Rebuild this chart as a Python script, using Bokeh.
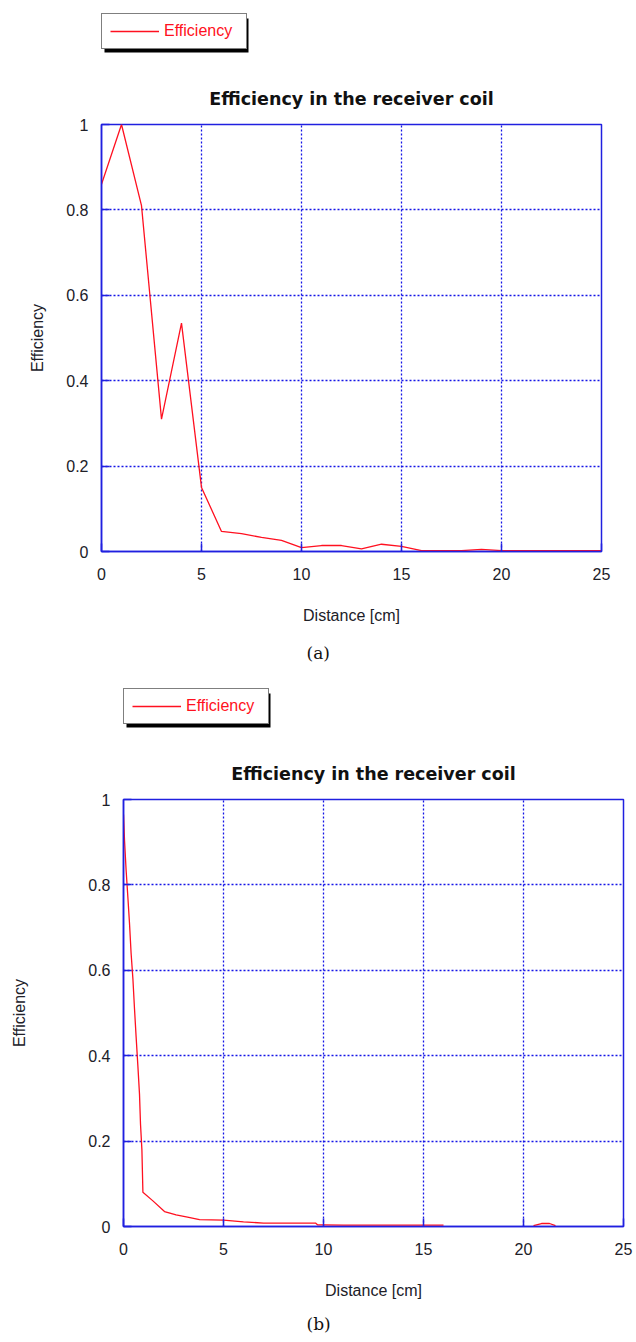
import math
from bokeh.plotting import figure
from bokeh.layouts import column
from bokeh.models import (Range1d, FixedTicker, CustomJSTickFormatter, Legend, LegendItem,
                          BoxAnnotation, Title)
from bokeh.embed import file_html
from bokeh.resources import INLINE

NAN = float("nan")

# ---- data (a) ----
dist_a = [0, 1, 2, 3, 4, 5, 6, 7, 8, 9, 10, 11, 12, 13, 14, 15, 16, 17, 18, 19, 20, 21, 22, 23, 24, 25]
eff_a = [0.86, 1.0, 0.81, 0.31, 0.535, 0.15, 0.047, 0.042, 0.033, 0.026, 0.009, 0.014, 0.014, 0.006,
         0.017, 0.012, 0.002, 0.002, 0.002, 0.005, 0.002, 0.002, 0.002, 0.002, 0.002, 0.002]

# ---- data (b) ----
dist_b = [0, 0.05, 0.13, 0.22, 0.3, 0.38, 0.47, 0.55, 0.63, 0.72, 0.8, 0.85, 0.92, 0.97,
          1.47, 2.05, 2.63, 3.2, 3.8, 5, 6, 7, 8, 9, 9.6, 9.7, 10, 11, 12, 13, 14, 15, 16,
          18, 20.5, 20.9, 21.3, 21.6]
eff_b = [0.965, 0.905, 0.835, 0.77, 0.71, 0.64, 0.58, 0.51, 0.445, 0.375, 0.31, 0.24, 0.18, 0.08,
         0.06, 0.035, 0.027, 0.022, 0.016, 0.015, 0.011, 0.008, 0.008, 0.008, 0.008, 0.004, 0.004,
         0.003, 0.003, 0.003, 0.003, 0.003, 0.003,
         NAN, 0.002, 0.007, 0.007, 0.002]

x_ticks = [0, 5, 10, 15, 20, 25]
y_ticks = [0, 0.2, 0.4, 0.6, 0.8, 1.0]
title_text = "Efficiency in the receiver coil"
legend_text = "Efficiency"
x_label = "Distance [cm]"
y_label = "Efficiency"

BLUE = "#2020e0"
GRID = "#1515e6"
RED = "#ff1020"
TXT = "#202028"
FONT = "Liberation Sans"


def make_legend_fig(height, box_bottom):
    # the column aligns this figure's frame with the plot frame below it,
    # so screen x = 0 is the left edge of the plot area
    f = figure(width=636, height=height, output_backend="svg", toolbar_location=None,
               min_border_left=0, min_border_right=0, min_border_top=0, min_border_bottom=0,
               x_range=Range1d(0, 1), y_range=Range1d(0, 1))
    f.axis.visible = False
    f.grid.visible = False
    f.outline_line_color = None
    f.background_fill_color = "white"
    f.border_fill_color = "white"
    r = f.line([NAN], [NAN], line_color=RED, line_width=1.3)
    shadow = BoxAnnotation(left=3, right=147, bottom=box_bottom - 3, top=box_bottom + 31,
                           left_units="screen", right_units="screen",
                           bottom_units="screen", top_units="screen",
                           fill_color="black", fill_alpha=1.0, line_color=None)
    f.add_layout(shadow)
    leg = Legend(items=[LegendItem(label=legend_text, renderers=[r])],
                 location=(0, box_bottom), orientation="vertical")
    leg.margin = 0
    leg.padding = 8
    leg.spacing = 0
    leg.glyph_width = 49
    leg.glyph_height = 16
    leg.label_height = 16
    leg.label_width = 74
    leg.label_standoff = 5
    leg.label_text_font = FONT
    leg.label_text_font_size = "16px"
    leg.label_text_color = RED
    leg.border_line_color = "black"
    leg.border_line_width = 1
    leg.background_fill_color = "white"
    leg.background_fill_alpha = 1.0
    f.add_layout(leg)
    return f


def make_panel(xs, ys, left, right, top, bottom, ylab_standoff, caption, cap_offset, cap_standoff):
    p = figure(frame_width=500, frame_height=427, output_backend="svg", toolbar_location=None,
               min_border_left=left, min_border_right=right, min_border_top=top,
               min_border_bottom=bottom,
               x_range=Range1d(0, 25), y_range=Range1d(0, 1))
    p.background_fill_color = "white"
    p.border_fill_color = "white"
    p.outline_line_color = BLUE
    p.outline_line_width = 1.5

    p.line(xs, ys, line_color=RED, line_width=1.3)

    for ax in (p.xaxis[0], p.yaxis[0]):
        ax.axis_line_color = BLUE
        ax.axis_line_width = 1.5
        ax.major_tick_line_color = BLUE
        ax.major_tick_line_width = 1.5
        ax.major_tick_in = 8
        ax.major_tick_out = 0
        ax.minor_tick_line_color = None
        ax.major_label_text_font = FONT
        ax.major_label_text_font_size = "16px"
        ax.major_label_text_color = TXT
        ax.axis_label_text_font = FONT
        ax.axis_label_text_font_size = "16px"
        ax.axis_label_text_font_style = "normal"
        ax.axis_label_text_color = TXT

    p.xaxis.ticker = FixedTicker(ticks=x_ticks)
    p.yaxis.ticker = FixedTicker(ticks=y_ticks)
    p.yaxis.formatter = CustomJSTickFormatter(code="return String(Math.round(tick*10)/10);")
    p.xaxis.axis_label = x_label
    p.yaxis.axis_label = y_label
    p.xaxis.major_label_standoff = 16
    p.xaxis.axis_label_standoff = 24
    p.yaxis.major_label_standoff = 13
    p.yaxis.axis_label_standoff = ylab_standoff

    for g in (p.xgrid[0], p.ygrid[0]):
        g.grid_line_color = GRID
        g.grid_line_width = 1.3
        g.grid_line_dash = "2 2"

    p.title.text = title_text
    p.title.align = "center"
    p.title.text_font = "DejaVu Sans"
    p.title.text_font_size = "17.5px"
    p.title.text_font_style = "bold"
    p.title.text_color = "#111111"
    p.title.standoff = 31

    p.add_layout(Title(text=caption, align="left", offset=cap_offset,
                       text_font="DejaVu Serif", text_font_size="17px",
                       text_font_style="normal", text_color="#111111",
                       standoff=cap_standoff), "below")
    return p


leg_a = make_legend_fig(60, 11)
pa = make_panel(dist_a, eff_a, 101, 35, 64, 127, 17, "(a)", 205, 28)
leg_b = make_legend_fig(60, 14)
pb = make_panel(dist_b, eff_b, 123, 13, 61, 116, 57, "(b)", 183, 20)

layout = column(column(leg_a, pa, spacing=0), column(leg_b, pb, spacing=0), spacing=0)
open("out.html", "w").write(file_html(layout, INLINE))
